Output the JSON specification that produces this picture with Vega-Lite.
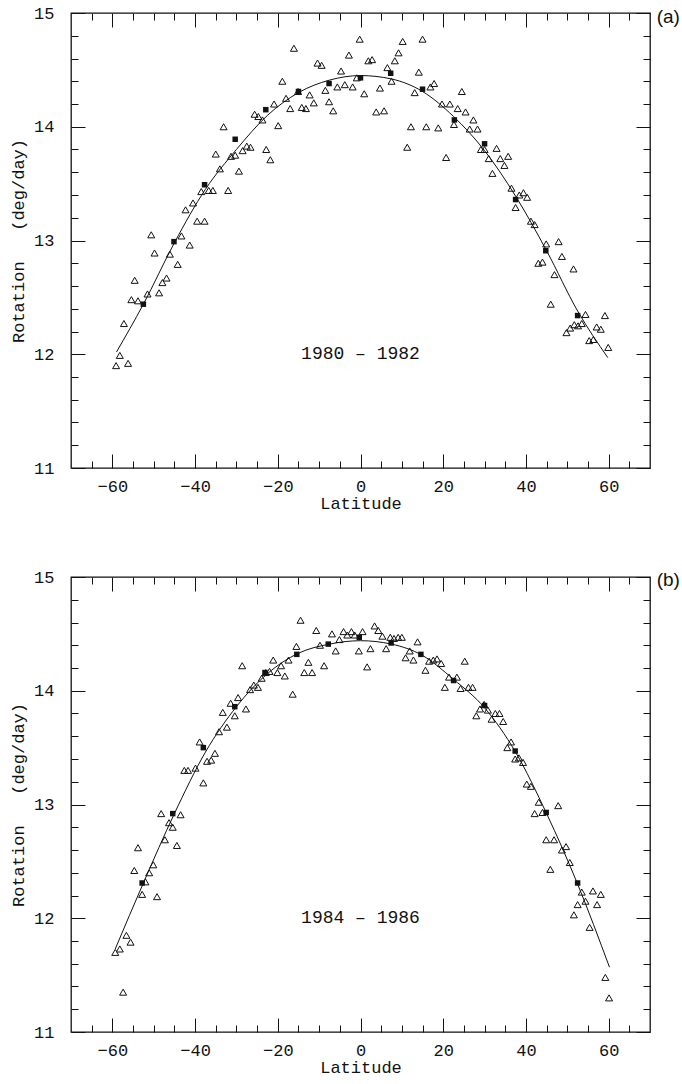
{
  "$schema": "https://vega.github.io/schema/vega-lite/v6.json",
  "padding": {"left": 8, "top": 3, "right": 0, "bottom": 0},
  "spacing": 55,
  "config": {
    "view": {"stroke": "#111", "strokeWidth": 1.3},
    "axis": {"domain": false, "grid": false, "tickColor": "#111", "tickWidth": 1, "labelColor": "#111", "titleColor": "#111", "labelFont": "Liberation Mono", "titleFont": "Liberation Mono", "labelFontSize": 17, "titleFontSize": 17, "titleFontWeight": "normal"},
    "title": {"font": "Liberation Sans", "fontSize": 19, "fontWeight": "normal", "color": "#111"}
  },
  "datasets": {
    "a_tri": [
      {"lat":-59.1,"rot":11.90},{"lat":-58.2,"rot":11.99},{"lat":-56.2,"rot":11.92},{"lat":-57.2,"rot":12.27},{"lat":-55.4,"rot":12.48},{"lat":-54.6,"rot":12.65},{"lat":-53.8,"rot":12.47},{"lat":-51.5,"rot":12.53},{"lat":-50.6,"rot":13.05},{"lat":-49.8,"rot":12.89},{"lat":-48.7,"rot":12.54},{"lat":-47.9,"rot":12.63},{"lat":-46.9,"rot":12.67},{"lat":-46.1,"rot":12.88},{"lat":-44.2,"rot":12.79},{"lat":-43.3,"rot":13.04},{"lat":-42.3,"rot":13.27},{"lat":-41.3,"rot":12.96},{"lat":-40.5,"rot":13.33},{"lat":-39.5,"rot":13.17},{"lat":-37.7,"rot":13.17},{"lat":-38.5,"rot":13.43},{"lat":-36.7,"rot":13.44},{"lat":-35.7,"rot":13.44},{"lat":-34.0,"rot":13.63},{"lat":-35.0,"rot":13.76},{"lat":-33.1,"rot":14.00},{"lat":-32.0,"rot":13.44},{"lat":-31.3,"rot":13.74},{"lat":-30.3,"rot":13.75},{"lat":-29.4,"rot":13.61},{"lat":-28.5,"rot":13.79},{"lat":-27.5,"rot":13.83},{"lat":-26.6,"rot":13.82},{"lat":-25.6,"rot":14.11},{"lat":-24.7,"rot":14.09},{"lat":-23.7,"rot":14.06},{"lat":-22.8,"rot":13.80},{"lat":-21.8,"rot":13.71},{"lat":-20.9,"rot":14.20},{"lat":-19.9,"rot":14.01},{"lat":-18.9,"rot":14.40},{"lat":-18.0,"rot":14.25},{"lat":-17.0,"rot":14.16},{"lat":-16.1,"rot":14.69},{"lat":-15.1,"rot":14.31},{"lat":-14.2,"rot":14.17},{"lat":-13.2,"rot":14.16},{"lat":-12.3,"rot":14.28},{"lat":-11.3,"rot":14.21},{"lat":-10.4,"rot":14.56},{"lat":-9.4,"rot":14.54},{"lat":-8.5,"rot":14.32},{"lat":-7.6,"rot":14.22},{"lat":-6.6,"rot":14.14},{"lat":-5.6,"rot":14.35},{"lat":-4.7,"rot":14.49},{"lat":-3.8,"rot":14.37},{"lat":-2.8,"rot":14.63},{"lat":-1.9,"rot":14.35},{"lat":-0.9,"rot":14.43},{"lat":-0.2,"rot":14.77},{"lat":0.9,"rot":14.29},{"lat":1.9,"rot":14.58},{"lat":2.8,"rot":14.59},{"lat":3.8,"rot":14.13},{"lat":4.7,"rot":14.34},{"lat":5.7,"rot":14.14},{"lat":6.5,"rot":14.52},{"lat":7.5,"rot":14.40},{"lat":8.3,"rot":14.58},{"lat":9.2,"rot":14.65},{"lat":10.2,"rot":14.75},{"lat":11.3,"rot":13.82},{"lat":12.2,"rot":14.00},{"lat":13.1,"rot":14.30},{"lat":14.1,"rot":14.48},{"lat":15.0,"rot":14.77},{"lat":15.9,"rot":14.00},{"lat":16.9,"rot":14.35},{"lat":17.8,"rot":14.38},{"lat":18.8,"rot":13.99},{"lat":19.7,"rot":14.20},{"lat":20.7,"rot":13.73},{"lat":21.6,"rot":14.20},{"lat":22.6,"rot":14.02},{"lat":23.5,"rot":14.16},{"lat":24.5,"rot":14.31},{"lat":25.4,"rot":14.13},{"lat":26.4,"rot":13.98},{"lat":27.3,"rot":14.06},{"lat":28.3,"rot":13.98},{"lat":29.1,"rot":13.80},{"lat":30.0,"rot":13.80},{"lat":31.0,"rot":13.72},{"lat":31.9,"rot":13.59},{"lat":32.9,"rot":13.81},{"lat":33.8,"rot":13.72},{"lat":34.8,"rot":13.66},{"lat":35.7,"rot":13.74},{"lat":36.5,"rot":13.46},{"lat":37.5,"rot":13.29},{"lat":38.4,"rot":13.40},{"lat":39.4,"rot":13.42},{"lat":40.3,"rot":13.38},{"lat":41.2,"rot":13.17},{"lat":42.1,"rot":13.14},{"lat":43.0,"rot":12.80},{"lat":44.0,"rot":12.81},{"lat":44.9,"rot":12.97},{"lat":46.0,"rot":12.44},{"lat":46.9,"rot":12.70},{"lat":47.9,"rot":12.99},{"lat":48.7,"rot":12.86},{"lat":49.8,"rot":12.19},{"lat":50.7,"rot":12.23},{"lat":51.7,"rot":12.26},{"lat":51.5,"rot":12.75},{"lat":52.6,"rot":12.25},{"lat":53.5,"rot":12.27},{"lat":54.4,"rot":12.35},{"lat":55.3,"rot":12.12},{"lat":56.3,"rot":12.13},{"lat":57.1,"rot":12.24},{"lat":58.1,"rot":12.22},{"lat":59.1,"rot":12.34},{"lat":59.9,"rot":12.06}
    ],
    "a_sq": [
      {"lat":-52.5,"rot":12.44},{"lat":-45.1,"rot":12.99},{"lat":-37.7,"rot":13.49},{"lat":-30.3,"rot":13.89},{"lat":-22.9,"rot":14.15},{"lat":-15.0,"rot":14.31},{"lat":-7.6,"rot":14.38},{"lat":0.0,"rot":14.43},{"lat":7.3,"rot":14.47},{"lat":15.0,"rot":14.33},{"lat":22.7,"rot":14.06},{"lat":30.0,"rot":13.85},{"lat":37.5,"rot":13.36},{"lat":44.8,"rot":12.91},{"lat":52.5,"rot":12.34}
    ],
    "a_line": [
      {"lat":-59.0,"rot":12.02},{"lat":-52.5,"rot":12.44},{"lat":-45.0,"rot":12.98},{"lat":-37.5,"rot":13.45},{"lat":-30.0,"rot":13.80},{"lat":-22.5,"rot":14.10},{"lat":-15.0,"rot":14.30},{"lat":-7.5,"rot":14.41},{"lat":0.0,"rot":14.45},{"lat":7.5,"rot":14.42},{"lat":15.0,"rot":14.31},{"lat":22.5,"rot":14.09},{"lat":30.0,"rot":13.79},{"lat":37.5,"rot":13.39},{"lat":45.0,"rot":12.91},{"lat":52.5,"rot":12.38},{"lat":59.8,"rot":11.97}
    ],
    "b_tri": [
      {"lat":-59.3,"rot":11.70},{"lat":-58.2,"rot":11.73},{"lat":-57.4,"rot":11.35},{"lat":-56.6,"rot":11.85},{"lat":-55.6,"rot":11.79},{"lat":-54.7,"rot":12.42},{"lat":-53.8,"rot":12.62},{"lat":-52.8,"rot":12.21},{"lat":-52.0,"rot":12.32},{"lat":-51.1,"rot":12.40},{"lat":-50.1,"rot":12.47},{"lat":-49.2,"rot":12.19},{"lat":-48.2,"rot":12.92},{"lat":-47.3,"rot":12.69},{"lat":-46.3,"rot":12.84},{"lat":-45.4,"rot":12.80},{"lat":-44.4,"rot":12.64},{"lat":-43.5,"rot":12.91},{"lat":-42.6,"rot":13.30},{"lat":-41.7,"rot":13.30},{"lat":-39.9,"rot":13.32},{"lat":-38.9,"rot":13.55},{"lat":-38.0,"rot":13.19},{"lat":-37.1,"rot":13.38},{"lat":-36.1,"rot":13.39},{"lat":-35.2,"rot":13.45},{"lat":-34.2,"rot":13.64},{"lat":-33.3,"rot":13.81},{"lat":-32.3,"rot":13.68},{"lat":-31.4,"rot":13.89},{"lat":-30.4,"rot":13.78},{"lat":-29.6,"rot":13.94},{"lat":-28.6,"rot":14.22},{"lat":-27.7,"rot":13.84},{"lat":-26.7,"rot":14.01},{"lat":-25.8,"rot":14.05},{"lat":-24.8,"rot":14.03},{"lat":-23.9,"rot":14.11},{"lat":-22.9,"rot":14.16},{"lat":-22.0,"rot":14.17},{"lat":-21.1,"rot":14.27},{"lat":-20.1,"rot":14.16},{"lat":-19.2,"rot":14.22},{"lat":-18.3,"rot":14.13},{"lat":-17.4,"rot":14.27},{"lat":-16.4,"rot":13.97},{"lat":-15.5,"rot":14.39},{"lat":-14.5,"rot":14.62},{"lat":-13.6,"rot":14.16},{"lat":-12.6,"rot":14.25},{"lat":-11.7,"rot":14.16},{"lat":-10.7,"rot":14.53},{"lat":-9.8,"rot":14.40},{"lat":-8.8,"rot":14.22},{"lat":-6.9,"rot":14.50},{"lat":-6.0,"rot":14.35},{"lat":-5.1,"rot":14.45},{"lat":-4.1,"rot":14.52},{"lat":-3.2,"rot":14.49},{"lat":-2.2,"rot":14.52},{"lat":-1.4,"rot":14.49},{"lat":-0.4,"rot":14.35},{"lat":0.5,"rot":14.52},{"lat":1.6,"rot":14.21},{"lat":2.4,"rot":14.37},{"lat":3.4,"rot":14.57},{"lat":4.3,"rot":14.53},{"lat":5.3,"rot":14.48},{"lat":6.2,"rot":14.37},{"lat":7.2,"rot":14.47},{"lat":8.1,"rot":14.46},{"lat":9.1,"rot":14.47},{"lat":10.0,"rot":14.47},{"lat":10.9,"rot":14.29},{"lat":11.9,"rot":14.35},{"lat":12.8,"rot":14.27},{"lat":13.8,"rot":14.43},{"lat":15.7,"rot":14.18},{"lat":16.6,"rot":14.26},{"lat":17.6,"rot":14.27},{"lat":18.5,"rot":14.28},{"lat":19.5,"rot":14.24},{"lat":20.4,"rot":14.03},{"lat":21.4,"rot":14.12},{"lat":23.3,"rot":14.12},{"lat":24.2,"rot":14.02},{"lat":25.2,"rot":14.26},{"lat":26.1,"rot":14.03},{"lat":27.1,"rot":14.03},{"lat":28.0,"rot":13.78},{"lat":28.9,"rot":13.84},{"lat":29.9,"rot":13.88},{"lat":30.8,"rot":13.83},{"lat":31.7,"rot":13.75},{"lat":32.6,"rot":13.80},{"lat":33.6,"rot":13.80},{"lat":34.5,"rot":13.73},{"lat":35.5,"rot":13.50},{"lat":36.4,"rot":13.55},{"lat":37.4,"rot":13.40},{"lat":38.3,"rot":13.41},{"lat":39.3,"rot":13.37},{"lat":40.2,"rot":13.18},{"lat":41.2,"rot":13.16},{"lat":42.1,"rot":12.92},{"lat":43.1,"rot":13.02},{"lat":44.0,"rot":12.93},{"lat":44.9,"rot":12.69},{"lat":45.9,"rot":12.43},{"lat":46.8,"rot":12.69},{"lat":47.8,"rot":12.99},{"lat":48.7,"rot":12.60},{"lat":49.7,"rot":12.63},{"lat":50.6,"rot":12.49},{"lat":51.6,"rot":12.03},{"lat":52.5,"rot":12.12},{"lat":53.5,"rot":12.23},{"lat":54.4,"rot":12.15},{"lat":55.4,"rot":11.92},{"lat":56.2,"rot":12.24},{"lat":57.2,"rot":12.12},{"lat":58.1,"rot":12.21},{"lat":59.2,"rot":11.48},{"lat":60.1,"rot":11.30}
    ],
    "b_sq": [
      {"lat":-52.8,"rot":12.31},{"lat":-45.4,"rot":12.92},{"lat":-38.0,"rot":13.50},{"lat":-30.4,"rot":13.86},{"lat":-23.1,"rot":14.16},{"lat":-15.4,"rot":14.32},{"lat":-7.8,"rot":14.41},{"lat":-0.3,"rot":14.47},{"lat":7.4,"rot":14.42},{"lat":14.6,"rot":14.32},{"lat":22.5,"rot":14.09},{"lat":30.0,"rot":13.87},{"lat":37.4,"rot":13.47},{"lat":44.9,"rot":12.93},{"lat":52.5,"rot":12.31}
    ],
    "b_line": [
      {"lat":-59.3,"rot":11.73},{"lat":-52.5,"rot":12.31},{"lat":-45.0,"rot":12.92},{"lat":-37.5,"rot":13.46},{"lat":-30.0,"rot":13.86},{"lat":-22.5,"rot":14.15},{"lat":-15.0,"rot":14.33},{"lat":-7.5,"rot":14.41},{"lat":0.0,"rot":14.44},{"lat":7.5,"rot":14.41},{"lat":15.0,"rot":14.31},{"lat":22.5,"rot":14.10},{"lat":30.0,"rot":13.85},{"lat":37.5,"rot":13.46},{"lat":45.0,"rot":12.92},{"lat":52.5,"rot":12.30},{"lat":60.2,"rot":11.57}
    ]
  },
  "vconcat": [
    {
      "width": 579, "height": 455,
      "title": {"text": "(a)", "orient": "right", "anchor": "start", "angle": 0, "align": "left", "baseline": "top", "offset": 3, "dx": -20, "dy": 4},
      "layer": [
        {"data": {"name": "a_tri"},
         "mark": {"type": "point", "shape": "triangle-up", "filled": false, "stroke": "#111", "strokeWidth": 1, "size": 49, "opacity": 1},
         "encoding": {
           "x": {"field": "lat", "type": "quantitative", "scale": {"domain": [-70, 70], "nice": false, "zero": false}, "axis": {"orient": "bottom", "values": [-60, -40, -20, 0, 20, 40, 60], "tickSize": 14, "offset": -14, "labelPadding": 10, "title": "Latitude", "titlePadding": 1}},
           "y": {"field": "rot", "type": "quantitative", "scale": {"domain": [11, 15], "nice": false, "zero": false}, "axis": {"orient": "left", "values": [11, 12, 13, 14, 15], "tickSize": 14, "offset": -14, "labelPadding": 17, "title": "Rotation\u00a0\u00a0 (deg/day)", "titlePadding": 6}}
         }},
        {"data": {"name": "a_line"},
         "mark": {"type": "line", "color": "#111", "strokeWidth": 1, "interpolate": "monotone"},
         "encoding": {
           "x": {"field": "lat", "type": "quantitative", "axis": {"orient": "top", "values": [-60, -40, -20, 0, 20, 40, 60], "tickSize": 14, "offset": -14, "labels": false, "title": null}},
           "y": {"field": "rot", "type": "quantitative", "axis": {"orient": "right", "values": [11, 12, 13, 14, 15], "tickSize": 14, "offset": -14, "labels": false, "title": null}}
         }},
        {"data": {"name": "a_sq"},
         "mark": {"type": "square", "filled": true, "color": "#111", "size": 30, "opacity": 1},
         "encoding": {
           "x": {"field": "lat", "type": "quantitative", "axis": {"orient": "bottom", "values": [-65, -55, -50, -45, -35, -30, -25, -15, -10, -5, 5, 10, 15, 25, 30, 35, 45, 50, 55, 65], "tickSize": 7, "offset": -7, "labels": false, "title": null}},
           "y": {"field": "rot", "type": "quantitative", "axis": {"orient": "left", "values": [11.2, 11.4, 11.6, 11.8, 12.2, 12.4, 12.6, 12.8, 13.2, 13.4, 13.6, 13.8, 14.2, 14.4, 14.6, 14.8], "tickSize": 7, "offset": -7, "labels": false, "title": null}}
         }},
        {"data": {"values": [{"lat": 0, "rot": 12.0, "label": "1980 – 1982"}]},
         "mark": {"type": "text", "font": "Liberation Mono", "fontSize": 18, "align": "center", "baseline": "middle", "color": "#111"},
         "encoding": {
           "x": {"field": "lat", "type": "quantitative", "axis": {"orient": "top", "values": [-65, -55, -50, -45, -35, -30, -25, -15, -10, -5, 5, 10, 15, 25, 30, 35, 45, 50, 55, 65], "tickSize": 7, "offset": -7, "labels": false, "title": null}},
           "y": {"field": "rot", "type": "quantitative", "axis": {"orient": "right", "values": [11.2, 11.4, 11.6, 11.8, 12.2, 12.4, 12.6, 12.8, 13.2, 13.4, 13.6, 13.8, 14.2, 14.4, 14.6, 14.8], "tickSize": 7, "offset": -7, "labels": false, "title": null}},
           "text": {"field": "label"}
         }}
      ],
      "resolve": {"axis": {"x": "independent", "y": "independent"}}
    },
    {
      "width": 579, "height": 455,
      "title": {"text": "(b)", "orient": "right", "anchor": "start", "angle": 0, "align": "left", "baseline": "top", "offset": 3, "dx": -20, "dy": 3},
      "layer": [
        {"data": {"name": "b_tri"},
         "mark": {"type": "point", "shape": "triangle-up", "filled": false, "stroke": "#111", "strokeWidth": 1, "size": 49, "opacity": 1},
         "encoding": {
           "x": {"field": "lat", "type": "quantitative", "scale": {"domain": [-70, 70], "nice": false, "zero": false}, "axis": {"orient": "bottom", "values": [-60, -40, -20, 0, 20, 40, 60], "tickSize": 14, "offset": -14, "labelPadding": 10, "title": "Latitude", "titlePadding": 1}},
           "y": {"field": "rot", "type": "quantitative", "scale": {"domain": [11, 15], "nice": false, "zero": false}, "axis": {"orient": "left", "values": [11, 12, 13, 14, 15], "tickSize": 14, "offset": -14, "labelPadding": 17, "title": "Rotation\u00a0\u00a0 (deg/day)", "titlePadding": 6}}
         }},
        {"data": {"name": "b_line"},
         "mark": {"type": "line", "color": "#111", "strokeWidth": 1, "interpolate": "monotone"},
         "encoding": {
           "x": {"field": "lat", "type": "quantitative", "axis": {"orient": "top", "values": [-60, -40, -20, 0, 20, 40, 60], "tickSize": 14, "offset": -14, "labels": false, "title": null}},
           "y": {"field": "rot", "type": "quantitative", "axis": {"orient": "right", "values": [11, 12, 13, 14, 15], "tickSize": 14, "offset": -14, "labels": false, "title": null}}
         }},
        {"data": {"name": "b_sq"},
         "mark": {"type": "square", "filled": true, "color": "#111", "size": 30, "opacity": 1},
         "encoding": {
           "x": {"field": "lat", "type": "quantitative", "axis": {"orient": "bottom", "values": [-65, -55, -50, -45, -35, -30, -25, -15, -10, -5, 5, 10, 15, 25, 30, 35, 45, 50, 55, 65], "tickSize": 7, "offset": -7, "labels": false, "title": null}},
           "y": {"field": "rot", "type": "quantitative", "axis": {"orient": "left", "values": [11.2, 11.4, 11.6, 11.8, 12.2, 12.4, 12.6, 12.8, 13.2, 13.4, 13.6, 13.8, 14.2, 14.4, 14.6, 14.8], "tickSize": 7, "offset": -7, "labels": false, "title": null}}
         }},
        {"data": {"values": [{"lat": 0, "rot": 12.0, "label": "1984 – 1986"}]},
         "mark": {"type": "text", "font": "Liberation Mono", "fontSize": 18, "align": "center", "baseline": "middle", "color": "#111"},
         "encoding": {
           "x": {"field": "lat", "type": "quantitative", "axis": {"orient": "top", "values": [-65, -55, -50, -45, -35, -30, -25, -15, -10, -5, 5, 10, 15, 25, 30, 35, 45, 50, 55, 65], "tickSize": 7, "offset": -7, "labels": false, "title": null}},
           "y": {"field": "rot", "type": "quantitative", "axis": {"orient": "right", "values": [11.2, 11.4, 11.6, 11.8, 12.2, 12.4, 12.6, 12.8, 13.2, 13.4, 13.6, 13.8, 14.2, 14.4, 14.6, 14.8], "tickSize": 7, "offset": -7, "labels": false, "title": null}},
           "text": {"field": "label"}
         }}
      ],
      "resolve": {"axis": {"x": "independent", "y": "independent"}}
    }
  ]
}
